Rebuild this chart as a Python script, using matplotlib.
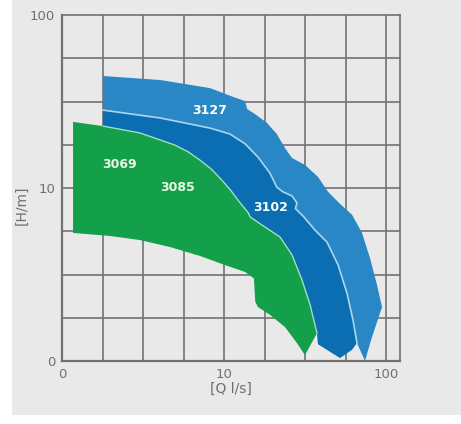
import numpy as np
import matplotlib.pyplot as plt
from matplotlib.patches import Rectangle

# pump ranges, Q in l/s, H in m (log-log)
outer_q = [1.79, 4.03, 8.2, 11.4, 13.5, 13.9, 15.5, 18.4, 21.2, 23.8, 26.3, 31.6,
           38.0, 43.9, 52.0, 61.7, 71.1, 79.6, 88.0, 94.5, 88.0, 80.8, 74.2]
outer_h = [44.4, 42.1, 37.8, 33.6, 31.8, 28.6, 26.8, 23.8, 20.5, 17.0, 14.9, 13.6,
           11.6, 9.5, 8.1, 7.0, 5.5, 3.94, 2.75, 2.05, 1.68, 1.32, 1.0]

sep_q = [1.79, 4.03, 8.2, 10.9, 13.5, 16.2, 19.2, 21.2, 23.1, 26.3, 28.2, 27.6,
         30.7, 36.5, 43.2, 50.6, 57.4, 62.5, 66.2]
sep_h = [28.2, 25.4, 22.2, 20.5, 18.0, 15.1, 12.2, 10.1, 9.5, 9.0, 8.2, 7.6,
         6.9, 5.7, 4.87, 3.59, 2.47, 1.73, 1.27]

b3102_q = [61.7, 52.0, 38.0]
b3102_h = [1.16, 1.04, 1.25]

green_top_q = [1.17, 1.79, 3.03, 4.98, 6.0, 7.1, 8.4, 9.7, 11.0, 12.2, 14.1, 14.5,
               17.2, 22.2, 26.3, 30.3, 34.0, 37.5]
green_top_h = [24.1, 22.8, 20.8, 17.7, 16.2, 14.5, 12.8, 11.1, 9.7, 8.5, 7.2, 6.8,
               6.1, 5.2, 4.1, 2.94, 2.11, 1.45]

green_bot_q = [1.17, 1.98, 3.03, 4.64, 7.1, 10.1, 13.5, 15.3, 15.6, 16.2, 19.2,
               23.8, 28.2, 31.6]
green_bot_h = [5.5, 5.28, 5.0, 4.56, 4.05, 3.59, 3.27, 3.0, 2.2, 2.05, 1.85,
               1.57, 1.27, 1.08]

labels = ["3127", "3069", "3085", "3102"]
label_q = [8.2, 2.28, 5.2, 19.5]
label_h = [28.2, 13.6, 10.0, 7.76]

c_light = "#2a87c6"
c_dark = "#0b6db2"
c_green = "#14a04a"
bg = "#e9e9e9"

fig = plt.figure(figsize=(4.61, 4.24), dpi=100)
fig.patch.set_facecolor("white")
fig.patches.append(Rectangle((12 / 461, 9 / 424), 1, 1, transform=fig.transFigure,
                             facecolor=bg, edgecolor="none", zorder=-10))
ax = fig.add_axes([62 / 461, 1 - 361 / 424, 338 / 461, 346 / 424])
ax.set_facecolor(bg)
ax.set_xscale("log")
ax.set_yscale("log")
ax.set_xlim(1, 122)
ax.set_ylim(1, 100)

# evenly spaced grid, four lines per decade
for k in range(1, 9):
    ax.axvline(10 ** (k / 4), color="#737373", lw=1.2, zorder=0)
for k in range(1, 8):
    ax.axhline(10 ** (k / 4), color="#737373", lw=1.2, zorder=0)

# 3127
q = list(outer_q) + sep_q[::-1]
h = list(outer_h) + sep_h[::-1]
ax.fill(q, h, color=c_light, lw=0, zorder=2)

# 3102
q = sep_q + b3102_q + green_top_q[1:][::-1]
h = sep_h + b3102_h + green_top_h[1:][::-1]
ax.fill(q, h, color=c_dark, lw=0, zorder=3)

# 3069 / 3085
q = green_top_q + green_bot_q[::-1]
h = green_top_h + green_bot_h[::-1]
ax.fill(q, h, color=c_green, lw=0, zorder=4)

ax.plot(sep_q, sep_h, color="#a9d6ee", lw=1.2, zorder=5)
ax.plot(green_top_q[1:], green_top_h[1:], color="#9fdcc0", lw=1.0, zorder=5)

for t, x, y in zip(labels, label_q, label_h):
    col = "#eef7e6" if t in ("3069", "3085") else "white"
    ax.text(x, y, t, color=col, fontsize=9, fontweight="bold",
            ha="center", va="center", zorder=6)

ax.set_xticks([1, 10, 100])
ax.set_xticklabels(["0", "10", "100"])
ax.set_yticks([1, 10, 100])
ax.set_yticklabels(["0", "10", "100"])
ax.minorticks_off()
ax.tick_params(length=0, pad=5, labelsize=9.5, colors="#707070")
for s in ax.spines.values():
    s.set_color("#707070")
    s.set_linewidth(1.2)
ax.spines["left"].set_linewidth(1.6)
ax.spines["bottom"].set_linewidth(1.6)

ax.set_xlabel("[Q l/s]", fontsize=10, color="#707070", labelpad=1)
ax.set_ylabel("[H/m]", fontsize=10, color="#707070")
ax.yaxis.set_label_coords(-0.1, 0.45)

fig.savefig("out.png", dpi=100, facecolor=fig.get_facecolor())
